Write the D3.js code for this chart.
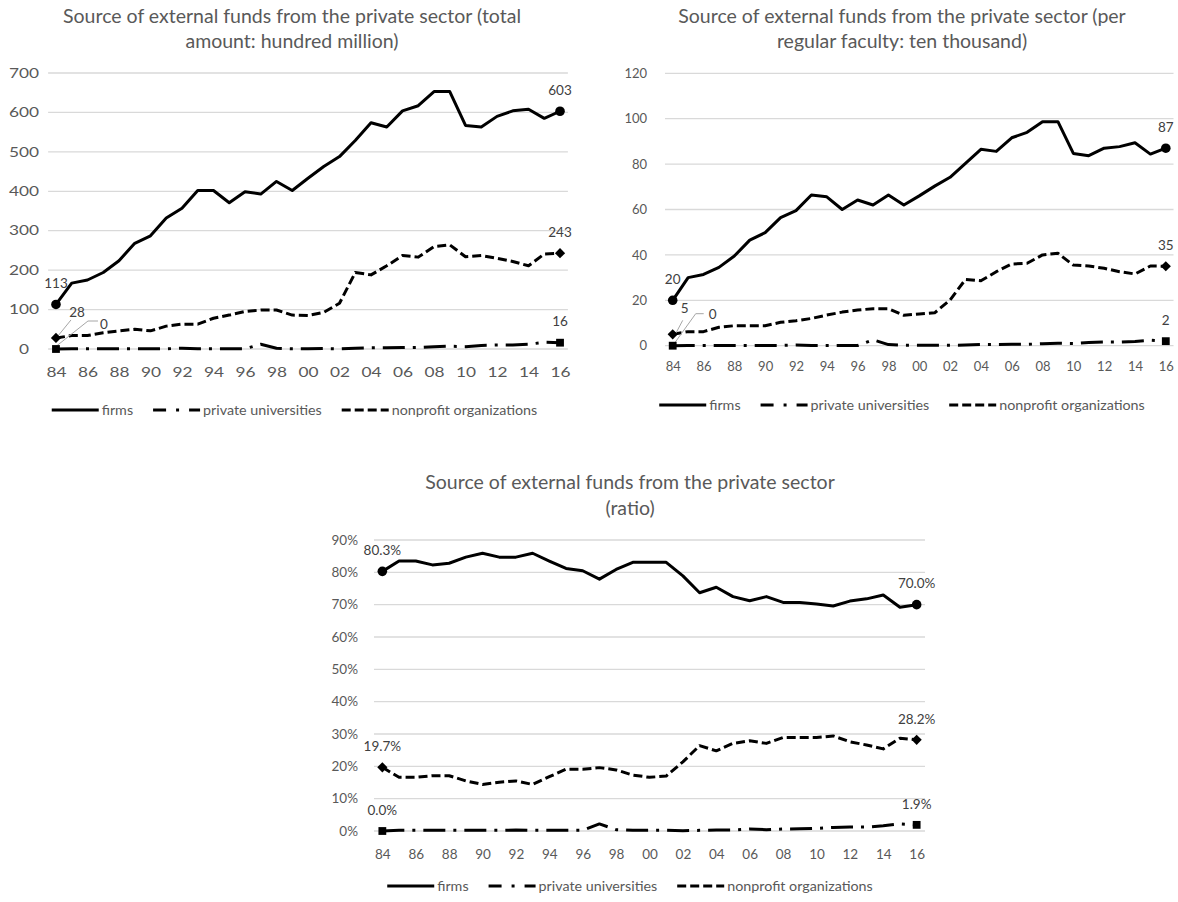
<!DOCTYPE html>
<html>
<head>
<meta charset="utf-8">
<script src="https://cdn.jsdelivr.net/npm/d3@7"></script>
<style>
  body { margin: 0; background: #fff; }
  svg { display: block; }
</style>
</head>
<body>
<svg id="chart" width="1178" height="902"></svg>
<script>
// Fiscal years 1984–2016, shown as two-digit labels
const years = ["84","85","86","87","88","89","90","91","92","93","94","95","96","97","98","99",
               "00","01","02","03","04","05","06","07","08","09","10","11","12","13","14","15","16"];
const tickYears = years.filter((d, i) => i % 2 === 0);
const seriesNames = ["firms", "private universities", "nonprofit organizations"];

// Total amount (hundred million yen)
const totalFirms = [113,167,175,194,224,268,287,332,357,402,402,371,399,393,425,402,433,463,488,529,
                    574,563,604,617,653,653,567,563,590,604,608,585,603];
const totalUniv = [0,0.5,0.5,0.5,0.5,0.5,0.5,0.5,2,0.5,0.5,0.5,0.5,12,2,0.5,0.5,1,0.5,2,
                   3,3,3.5,4,6,7,6,9,10,10,12,17,16];
const totalNonprofit = [28,34,34,41,46,50,46,58,63,63,78,86,95,99,99,86,85,93,116,194,
                        188,211,237,233,260,264,234,237,230,222,211,241,243];
const totalTicks = [0,100,200,300,400,500,600,700];

// Per regular faculty member (ten thousand yen)
const perFacFirms = [20,30,31.4,34.5,39.5,46.5,49.8,56.4,59.5,66.4,65.6,60,64.2,62,66.4,62,66,70.3,74.2,80.3,
                     86.5,85.6,91.6,94,98.7,98.7,84.7,83.7,87,87.7,89.4,84.4,87];
const perFacUniv = [0,0.1,0.1,0.1,0.1,0.1,0.1,0.1,0.3,0.1,0.1,0.1,0.1,2.6,0.5,0.2,0.2,0.2,0.2,0.3,
                    0.5,0.5,0.6,0.6,0.9,1.1,1.0,1.4,1.6,1.6,1.9,2.4,2];
const perFacNonprofit = [5,6.2,6.2,8.1,8.8,8.8,8.8,10.3,11,12,13.5,14.8,15.7,16.3,16.3,13.4,14,14.5,20.1,29.2,
                         28.6,32.6,36,36.3,40,40.7,35.5,35.1,34.1,32.6,31.6,35.1,35];
const perFacTicks = [0,20,40,60,80,100,120];

// Share of private-sector external funds (%)
const ratioFirms = [80.3,83.5,83.5,82.3,82.8,84.7,85.9,84.7,84.7,85.9,83.5,81.2,80.5,77.9,80.9,83.1,83.1,83.1,78.9,73.7,
                    75.4,72.5,71.2,72.5,70.7,70.7,70.2,69.6,71.1,71.8,73.0,69.2,70.0];
const ratioUniv = [0.0,0.2,0.2,0.2,0.2,0.2,0.2,0.2,0.3,0.2,0.2,0.2,0.2,2.2,0.4,0.2,0.2,0.2,0.1,0.2,
                   0.3,0.3,0.6,0.4,0.6,0.7,0.8,1.1,1.2,1.2,1.6,2.2,1.9];
const ratioNonprofit = [19.7,16.6,16.6,17.1,17.1,15.5,14.4,15.1,15.5,14.4,16.8,19.1,19.1,19.6,18.9,17.3,16.6,17.0,21.4,26.4,
                        24.8,27.1,27.9,27.1,28.9,28.9,28.9,29.4,27.6,26.6,25.4,28.7,28.2];
const ratioTicks = [0,10,20,30,40,50,60,70,80,90];

const FONT = "Lato, 'Open Sans', sans-serif";
const GREY = "#595959";
const LABEL = "#404040";
const styles = {
  firms:     { dash: null,        marker: "circle" },
  univ:      { dash: "22,8,3,8",  marker: "square" },
  nonprofit: { dash: "9,4",       marker: "diamond" }
};

const svg = d3.select("#chart").attr("font-family", FONT);
svg.append("rect").attr("width", 1178).attr("height", 902).attr("fill", "#fff");

function marker(sel, type) {
  if (type === "circle") return sel.append("circle").attr("r", 4.8);
  if (type === "square") return sel.append("rect").attr("x", -3.9).attr("y", -3.9).attr("width", 7.8).attr("height", 7.8);
  return sel.append("rect").attr("x", -3.6).attr("y", -3.6).attr("width", 7.2).attr("height", 7.2).attr("transform", "rotate(45)");
}

function drawPanel(p) {
  const g = svg.append("g");
  const x = d3.scalePoint().domain(years).range(p.xRange).padding(0.5);
  const y = d3.scaleLinear().domain(p.yDomain).range(p.yRange);

  // title
  p.titleLines.forEach((t, i) => {
    g.append("text").attr("x", p.titleX).attr("y", p.titleY + i * p.titleLH)
      .attr("dy", "0.35em").attr("text-anchor", "middle")
      .attr("fill", GREY).attr("font-size", p.titleSize).text(t);
  });

  // horizontal gridlines
  g.append("g").selectAll("line").data(p.yTicks).join("line")
    .attr("x1", p.xRange[0]).attr("x2", p.xRange[1])
    .attr("y1", d => y(d)).attr("y2", d => y(d))
    .attr("stroke", "#d9d9d9").attr("stroke-width", 1.3);

  // value axis
  const ya = g.append("g").attr("transform", `translate(${p.xRange[0]},0)`)
    .call(d3.axisLeft(y).tickValues(p.yTicks).tickSize(0).tickPadding(p.yPad).tickFormat(p.yFmt));
  ya.select(".domain").remove();
  ya.attr("font-family", FONT).attr("font-size", p.tickSize);
  ya.selectAll("text").attr("fill", GREY);
  if (p.stretch) {
    ya.selectAll("text").attr("x", 0).attr("text-anchor", "middle")
      .attr("transform", `translate(${p.yLabelX - p.xRange[0]},0) scale(${p.stretch},1)`);
  }

  // category axis
  const xa = g.append("g").attr("transform", `translate(0,${p.yRange[0]})`)
    .call(d3.axisBottom(x).tickValues(tickYears).tickSize(0));
  xa.select(".domain").remove();
  xa.attr("font-family", FONT).attr("font-size", p.tickSize);
  xa.selectAll("text").attr("fill", GREY).attr("y", p.xLabelY - p.yRange[0]).attr("dy", "0.35em");
  if (p.stretch) xa.selectAll("text").attr("transform", `scale(${p.stretch},1)`);

  // series lines
  const line = d3.line().x((d, i) => x(years[i])).y(d => y(d));
  p.series.forEach(s => {
    const st = styles[s.key];
    g.append("path").attr("d", line(s.values)).attr("fill", "none")
      .attr("stroke", "#000").attr("stroke-width", 3)
      .attr("stroke-linejoin", "round")
      .attr("stroke-dasharray", st.dash);
  });

  // end-point markers and value labels
  p.series.forEach(s => {
    const st = styles[s.key];
    [0, s.values.length - 1].forEach((idx, k) => {
      const v = s.values[idx];
      const mx = x(years[idx]), my = y(v);
      const lab = k === 0 ? s.first : s.last;
      const lx = mx + (lab && lab.dx || 0), ly = my + (lab && lab.dy !== undefined ? lab.dy : -21);
      if (lab && lab.leader) {
        g.append("polyline")
          .attr("points", lab.leader.map(q => [mx + q[0], my + q[1]].join(",")).join(" "))
          .attr("fill", "none").attr("stroke", "#a6a6a6").attr("stroke-width", 1);
      }
      marker(g.append("g").attr("transform", `translate(${mx},${my})`), st.marker).attr("fill", "#000");
      g.append("text").attr("x", lx).attr("y", ly).attr("dy", "0.35em")
        .attr("text-anchor", "middle").attr("fill", LABEL)
        .attr("font-size", p.labelSize).text(p.labelFmt(v));
    });
  });

  // legend
  const lg = g.append("g");
  const keys = ["firms", "univ", "nonprofit"];
  let cx = 0;
  keys.forEach((key, i) => {
    const it = lg.append("g").attr("transform", `translate(${cx},0)`);
    it.append("line").attr("x1", 0).attr("x2", 47).attr("y1", 0).attr("y2", 0)
      .attr("stroke", "#000").attr("stroke-width", 3)
      .attr("stroke-dasharray", key === "univ" ? "13,10,3,10" : styles[key].dash);
    const t = it.append("text").attr("x", 50).attr("dy", "0.35em")
      .attr("fill", GREY).attr("font-size", p.legendSize).text(seriesNames[i]);
    cx += 50 + t.node().getComputedTextLength() + 20;
  });
  const total = cx - 20;
  lg.attr("transform", `translate(${p.legendX - total / 2},${p.legendY})`);
}

drawPanel({
  titleLines: ["Source of external funds from the private sector (total", "amount: hundred million)"],
  titleX: 292, titleY: 16, titleLH: 25, titleSize: 19.5,
  xRange: [48.1, 567.9], yRange: [349, 73], yDomain: [0, 700], yTicks: totalTicks,
  yFmt: d3.format("d"), yPad: 10, yLabelX: 24, stretch: 1.33, tickSize: 13,
  xLabelY: 372, labelSize: 13.5, labelFmt: d3.format(".0f"),
  legendX: 294.5, legendY: 410, legendSize: 14.3,
  series: [
    { key: "firms", values: totalFirms },
    { key: "univ", values: totalUniv,
      first: { dx: 48, dy: -25, leader: [[-2, -1], [32, -28], [42, -28]] } },
    { key: "nonprofit", values: totalNonprofit,
      first: { dx: 21, dy: -26, leader: [[2, -2], [15, -18]] } }
  ]
});

drawPanel({
  titleLines: ["Source of external funds from the private sector (per", "regular faculty: ten thousand)"],
  titleX: 902, titleY: 16, titleLH: 25, titleSize: 19.5,
  xRange: [665, 1173.5], yRange: [345.7, 73.3], yDomain: [0, 120], yTicks: perFacTicks,
  yFmt: d3.format("d"), yPad: 18, tickSize: 13,
  xLabelY: 366, labelSize: 13.5, labelFmt: d3.format(".0f"),
  legendX: 902, legendY: 405, legendSize: 14.3,
  series: [
    { key: "firms", values: perFacFirms },
    { key: "univ", values: perFacUniv,
      first: { dx: 40, dy: -31, leader: [[0, 0], [23, -32], [31, -32]] } },
    { key: "nonprofit", values: perFacNonprofit,
      first: { dx: 12, dy: -26, leader: [[1, 3], [10, -14]] } }
  ]
});

drawPanel({
  titleLines: ["Source of external funds from the private sector", "(ratio)"],
  titleX: 630, titleY: 482, titleLH: 26, titleSize: 19.5,
  xRange: [374, 925], yRange: [831, 540], yDomain: [0, 90], yTicks: ratioTicks,
  yFmt: d => d + "%", yPad: 16, tickSize: 13.5,
  xLabelY: 854, labelSize: 13.5, labelFmt: d => d.toFixed(1) + "%",
  legendX: 630, legendY: 886, legendSize: 14.3,
  series: [
    { key: "firms", values: ratioFirms },
    { key: "univ", values: ratioUniv },
    { key: "nonprofit", values: ratioNonprofit }
  ]
});
</script>
</body>
</html>
